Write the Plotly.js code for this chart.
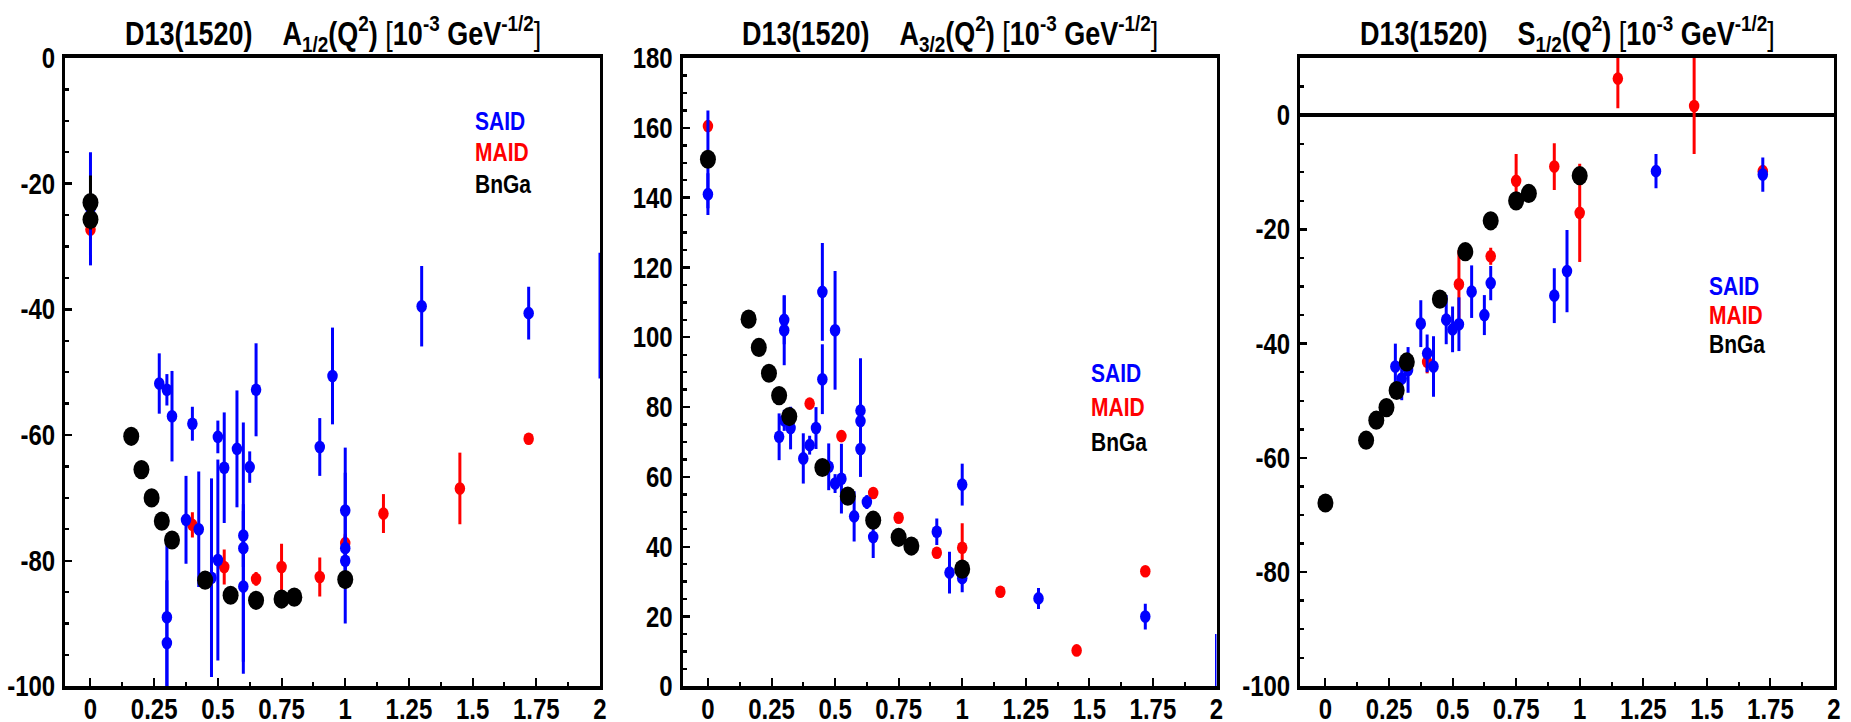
<!DOCTYPE html>
<html>
<head>
<meta charset="utf-8">
<script src="https://cdn.plot.ly/plotly-3.0.1.min.js"></script>
<style>
html,body{margin:0;padding:0;background:#fff;overflow:hidden;width:1851px;height:722px;}
#wrap{width:1851px;height:602px;transform:scaleY(1.2);transform-origin:0 0;}
#chart{width:1851px;height:602px;}
</style>
</head>
<body>
<div id="wrap"><div id="chart"></div></div>
<script>
// ---------- data: A1/2 ----------
const saidA12X = [0, 0.27, 0.3, 0.32, 0.4, 0.5, 0.525, 0.575, 0.6, 0.6, 0.6, 0.625, 0.65, 0.375, 0.425, 0.475, 0.5, 0.3, 0.3, 0.9, 0.95, 1.0, 1.0, 1.0, 1.3, 1.72];
const saidA12Y = [-24, -51.8, -52.8, -57, -58.2, -60.3, -65.2, -62.2, -76, -78, -84.1, -65.1, -52.8, -73.5, -75, -82.7, -79.9, -89, -93.1, -61.9, -50.6, -72, -78, -80, -39.5, -40.6];
const saidA12E = [9, 4.8, 2.5, 7.2, 2.7, 2.6, 8.8, 9.3, 5, 20, 12, 2.5, 7.4, 7, 9.2, 15.8, 16, 12, 10, 4.6, 7.7, 10, 12, 4, 6.4, 4.2];
const saidA12EdgeX = [2.0];
const saidA12EdgeY = [-41];
const saidA12EdgeE = [10];
const maidA12X = [0, 0.4, 0.525, 0.65, 0.75, 0.9, 1.0, 1.15, 1.45, 1.72];
const maidA12Y = [-27.3, -74.3, -81, -82.9, -81, -82.6, -77.2, -72.5, -68.5, -60.6];
const maidA12E = [1.5, 2, 2.8, 1.1, 3.7, 3.1, 1.5, 3.1, 5.7, 0.5];
const bngaA12X = [0, 0, 0.16, 0.2, 0.24, 0.28, 0.32, 0.45, 0.55, 0.65, 0.75, 0.8, 1.0];
const bngaA12Y = [-23, -25.7, -60.2, -65.5, -70, -73.7, -76.7, -83.1, -85.5, -86.3, -86.1, -85.8, -83];
const bngaA12E = [4.3, 0, 0, 0, 0, 0, 0, 0, 0, 0, 0, 0, 0];

// ---------- data: A3/2 ----------
const saidA32X = [0, 0, 0.28, 0.3, 0.3, 0.3, 0.325, 0.375, 0.4, 0.425, 0.45, 0.45, 0.475, 0.5, 0.5, 0.525, 0.575, 0.6, 0.6, 0.6, 0.625, 0.65, 0.9, 0.95, 1.0, 1.0, 1.3, 1.72];
const saidA32Y = [141, 151, 71.5, 105, 102, 76.2, 74.0, 65.3, 69.1, 74.0, 113, 88, 62.9, 58.1, 102, 59.5, 48.7, 79, 76, 68, 52.8, 42.8, 44.3, 32.6, 57.8, 31, 25.2, 20];
const saidA32E = [6, 14, 6.7, 7, 10, 3, 6.1, 7.2, 2.7, 6, 14, 10, 6.7, 2.7, 17, 10, 7.2, 15, 5, 8, 2, 6, 3.8, 6, 6, 4, 3, 3.7];
const saidA32EdgeX = [2.0];
const saidA32EdgeY = [5];
const saidA32EdgeE = [10];
const maidA32X = [0, 0.4, 0.525, 0.65, 0.75, 0.9, 1.0, 1.15, 1.45, 1.72];
const maidA32Y = [160.5, 81, 71.7, 55.4, 48.3, 38.3, 39.7, 27.1, 10.3, 33];
const maidA32E = [1, 0.5, 0, 0, 0, 0, 7, 0, 0, 0];
const bngaA32X = [0, 0.16, 0.2, 0.24, 0.28, 0.32, 0.45, 0.55, 0.65, 0.75, 0.8, 1.0];
const bngaA32Y = [151, 105.2, 97.1, 89.7, 83.3, 77.3, 62.7, 54.5, 47.6, 42.7, 40.2, 33.6];

// ---------- data: S1/2 ----------
const saidS12X = [0.275, 0.3, 0.325, 0.375, 0.4, 0.425, 0.475, 0.5, 0.525, 0.575, 0.625, 0.65, 0.9, 0.95, 1.3, 1.72];
const saidS12Y = [-44, -46.1, -44.6, -36.5, -41.7, -44, -35.8, -37.5, -36.6, -30.9, -35, -29.4, -31.6, -27.3, -9.8, -10.4];
const saidS12E = [4, 3.8, 4, 4.1, 3.3, 5.3, 4.3, 4, 4.7, 4.6, 3.5, 3, 4.8, 7.2, 3, 3];
const maidS12X = [0.4, 0.525, 0.65, 0.75, 0.9, 1.0, 1.15, 1.45, 1.72];
const maidS12Y = [-43.2, -29.6, -24.7, -11.5, -9, -17.1, 6.4, 1.6, -9.8];
const maidS12E = [2, 6, 1.5, 4.7, 4.1, 8.6, 5.2, 8.4, 0.5];
const bngaS12X = [0, 0.16, 0.2, 0.24, 0.28, 0.32, 0.45, 0.55, 0.65, 0.75, 0.8, 1.0];
const bngaS12Y = [-67.9, -56.9, -53.4, -51.2, -48.2, -43.2, -32.2, -23.9, -18.5, -15, -13.7, -10.6];

// ---------- ticks & labels ----------
const xTickVals = [0, 0.25, 0.5, 0.75, 1, 1.25, 1.5, 1.75, 2];
const xTickText = ['0', '0.25', '0.5', '0.75', '1', '1.25', '1.5', '1.75', '2'];
const yNegTickVals = [0, -20, -40, -60, -80, -100];
const yNegTickText = ['0', '-20', '-40', '-60', '-80', '-100'];
const yPosTickVals = [0, 20, 40, 60, 80, 100, 120, 140, 160, 180];
const yPosTickText = ['0', '20', '40', '60', '80', '100', '120', '140', '160', '180'];
const legendNames = ['SAID', 'MAID', 'BnGa'];
const legendA12Y = [-10, -15, -20];
const legendA32Y = [90, 80, 70];
const legendS12Y = [-30, -35, -40];
const legendX = 1.5;
const panelTitles = [
  'D13(1520)&nbsp;&nbsp;&nbsp;&nbsp;A<sub>1/2</sub>(Q<sup>2</sup>) <span style="font-weight:normal">[</span>10<sup>-3</sup> GeV<sup>-1/2</sup><span style="font-weight:normal">]</span>',
  'D13(1520)&nbsp;&nbsp;&nbsp;&nbsp;A<sub>3/2</sub>(Q<sup>2</sup>) <span style="font-weight:normal">[</span>10<sup>-3</sup> GeV<sup>-1/2</sup><span style="font-weight:normal">]</span>',
  'D13(1520)&nbsp;&nbsp;&nbsp;&nbsp;S<sub>1/2</sub>(Q<sup>2</sup>) <span style="font-weight:normal">[</span>10<sup>-3</sup> GeV<sup>-1/2</sup><span style="font-weight:normal">]</span>'
];

// ---------- styling ----------
const BLUE = '#0000ff', RED = '#ff0000', BLACK = '#000000';
const FONT = '"Liberation Sans", Arial, Helvetica, sans-serif';
const W = 1851, H = 722;          // final picture size
const SY = 1.2;                   // vertical stretch of the original picture
const HP = H / SY;                // plotly canvas height before stretch

function pts(x, y, e, color, size, xa, ya, opacity) {
  return {
    type: 'scatter', mode: 'markers', x: x, y: y, xaxis: xa, yaxis: ya,
    marker: {color: color, size: size, opacity: opacity === undefined ? 1 : opacity, line: {width: 0}},
    error_y: e ? {type: 'data', array: e, visible: true, thickness: 3, width: 0, color: color} : {visible: false},
    showlegend: false, cliponaxis: true, hoverinfo: 'skip'
  };
}

const traces = [
  pts(maidA12X, maidA12Y, maidA12E, RED, 10.5, 'x', 'y'),
  pts(saidA12X, saidA12Y, saidA12E, BLUE, 10.5, 'x', 'y'),
  pts(saidA12EdgeX, saidA12EdgeY, saidA12EdgeE, BLUE, 1, 'x', 'y', 0),
  pts(bngaA12X, bngaA12Y, bngaA12E, BLACK, 16, 'x', 'y'),

  pts(maidA32X, maidA32Y, maidA32E, RED, 10.5, 'x2', 'y2'),
  pts(saidA32X, saidA32Y, saidA32E, BLUE, 10.5, 'x2', 'y2'),
  pts(saidA32EdgeX, saidA32EdgeY, saidA32EdgeE, BLUE, 1, 'x2', 'y2', 0),
  pts(bngaA32X, bngaA32Y, null, BLACK, 16, 'x2', 'y2'),

  pts(maidS12X, maidS12Y, maidS12E, RED, 10.5, 'x3', 'y3'),
  pts(saidS12X, saidS12Y, saidS12E, BLUE, 10.5, 'x3', 'y3'),
  pts(bngaS12X, bngaS12Y, null, BLACK, 16, 'x3', 'y3')
];

const tickFont = {family: FONT, size: 24, weight: 700, color: BLACK};

function xAxis(domain, anchor) {
  return {
    domain: domain, anchor: anchor, range: [-0.1, 2],
    tickmode: 'array', tickvals: xTickVals, ticktext: xTickText,
    ticks: 'inside', ticklen: 7, tickwidth: 2, tickcolor: BLACK,
    showline: true, mirror: true, linewidth: 3, linecolor: BLACK,
    showgrid: false, zeroline: false, tickfont: tickFont, fixedrange: true,
    ticklabelstandoff: -5,
    minor: {tickmode: 'linear', tick0: 0, dtick: 0.125, ticks: 'inside', ticklen: 4, tickwidth: 2, tickcolor: BLACK, showgrid: false}
  };
}
function yAxis(range, vals, text, anchor, zero) {
  return {
    domain: [1 - 686 / H, 1 - 58 / H], anchor: anchor, range: range,
    tickmode: 'array', tickvals: vals, ticktext: text,
    ticks: 'inside', ticklen: 7, tickwidth: 2, tickcolor: BLACK,
    showline: true, mirror: true, linewidth: 3, linecolor: BLACK,
    showgrid: false, zeroline: !!zero, zerolinewidth: 3, zerolinecolor: BLACK,
    tickfont: tickFont, fixedrange: true, ticklabelstandoff: 2,
    minor: {tickmode: 'linear', tick0: 0, dtick: 5, ticks: 'inside', ticklen: 4, tickwidth: 2, tickcolor: BLACK, showgrid: false}
  };
}

const annotations = [];
const axPairs = [['x', 'y', legendA12Y], ['x2', 'y2', legendA32Y], ['x3', 'y3', legendS12Y]];
const legendColors = [BLUE, RED, BLACK];
axPairs.forEach(function (p, i) {
  annotations.push({
    xref: p[0] + ' domain', yref: 'paper', x: 0.5, y: 1 - 34 / H, xanchor: 'center', yanchor: 'middle',
    text: panelTitles[i], showarrow: false,
    font: {family: FONT, size: 27, weight: 700, color: BLACK}
  });
  legendNames.forEach(function (n, k) {
    annotations.push({
      xref: p[0], yref: p[1], x: legendX, y: p[2][k], xanchor: 'left', yanchor: 'middle',
      text: n, showarrow: false,
      font: {family: FONT, size: 21, weight: 700, color: legendColors[k]}
    });
  });
});

const layout = {
  width: W, height: HP, autosize: false,
  margin: {l: 0, r: 0, t: 0, b: 0, pad: 0},
  paper_bgcolor: '#fff', plot_bgcolor: '#fff',
  showlegend: false,
  xaxis: xAxis([65 / W, 600 / W], 'y'),
  yaxis: yAxis([-100, 0], yNegTickVals, yNegTickText, 'x'),
  xaxis2: xAxis([682.5 / W, 1216.5 / W], 'y2'),
  yaxis2: yAxis([0, 180], yPosTickVals, yPosTickText, 'x2'),
  xaxis3: xAxis([1300 / W, 1834 / W], 'y3'),
  yaxis3: yAxis([-100, 10], yNegTickVals, yNegTickText, 'x3', true),
  annotations: annotations
};

Plotly.newPlot('chart', traces, layout, {staticPlot: true, displayModeBar: false});
</script>
</body>
</html>
